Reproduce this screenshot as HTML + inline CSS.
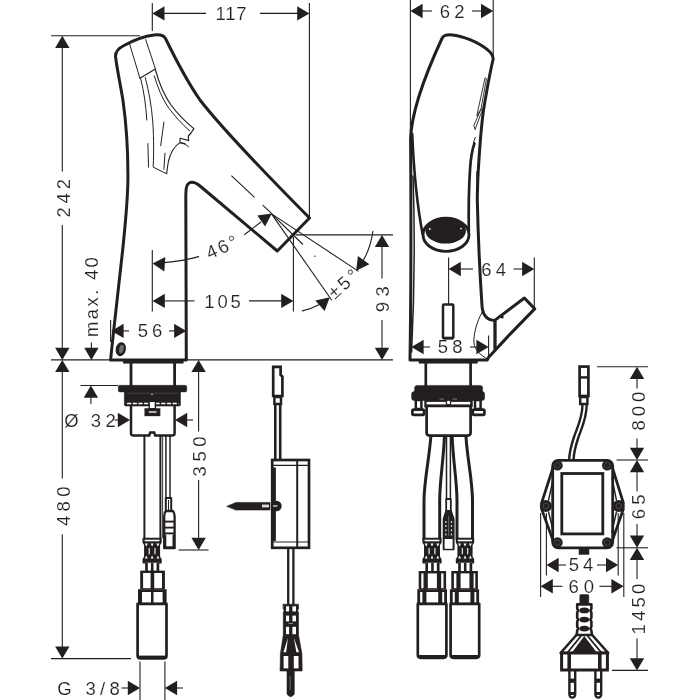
<!DOCTYPE html>
<html><head><meta charset="utf-8"><title>Dimension drawing</title>
<style>
html,body{margin:0;padding:0;background:#fff;}
body{width:700px;height:700px;overflow:hidden;}
svg{display:block;will-change:transform;}
text{font-family:"Liberation Sans",sans-serif;fill:#231f20;stroke:#fff;stroke-width:0.15px;}
</style></head><body>
<svg width="700" height="700" viewBox="0 0 700 700">
<rect width="700" height="700" fill="#fff"/>
<line x1="152.3" y1="3" x2="152.3" y2="31" stroke="#231f20" stroke-width="1.1" stroke-linecap="butt"/>
<line x1="309.4" y1="3" x2="309.4" y2="218" stroke="#231f20" stroke-width="1.1" stroke-linecap="butt"/>
<polygon points="152.3,13.4 164.5,6.2 164.5,20.6" fill="#231f20"/>
<polygon points="309.4,13.4 297.2,20.6 297.2,6.2" fill="#231f20"/>
<line x1="164" y1="13.4" x2="206" y2="13.4" stroke="#231f20" stroke-width="1.1" stroke-linecap="butt"/>
<line x1="260" y1="13.4" x2="298" y2="13.4" stroke="#231f20" stroke-width="1.1" stroke-linecap="butt"/>
<text x="215.59" y="20.00" font-size="18.5" letter-spacing="0.74">117</text>
<line x1="51" y1="35.7" x2="140" y2="35.7" stroke="#231f20" stroke-width="1.1" stroke-linecap="butt"/>
<polygon points="62.3,35.7 69.5,47.9 55.1,47.9" fill="#231f20"/>
<line x1="62.3" y1="47" x2="62.3" y2="171.4" stroke="#231f20" stroke-width="1.1" stroke-linecap="butt"/>
<line x1="62.3" y1="225" x2="62.3" y2="348" stroke="#231f20" stroke-width="1.1" stroke-linecap="butt"/>
<polygon points="62.3,359.9 55.1,347.7 69.5,347.7" fill="#231f20"/>
<text x="69.70" y="217.53" font-size="18.5" letter-spacing="3.80" transform="rotate(-90 69.70 217.53)">242</text>
<line x1="51" y1="359.9" x2="393" y2="359.9" stroke="#231f20" stroke-width="1.1" stroke-linecap="butt"/>
<polygon points="62.3,359.9 69.5,372.1 55.1,372.1" fill="#231f20"/>
<line x1="62.3" y1="371" x2="62.3" y2="478.6" stroke="#231f20" stroke-width="1.1" stroke-linecap="butt"/>
<line x1="62.3" y1="534.3" x2="62.3" y2="647" stroke="#231f20" stroke-width="1.1" stroke-linecap="butt"/>
<polygon points="62.3,658.6 55.1,646.4 69.5,646.4" fill="#231f20"/>
<text x="70.00" y="526.12" font-size="18.5" letter-spacing="4.44" transform="rotate(-90 70.00 526.12)">480</text>
<line x1="51" y1="658.6" x2="131" y2="658.6" stroke="#231f20" stroke-width="1.1" stroke-linecap="butt"/>
<polygon points="91.4,359.9 84.2,347.7 98.6,347.7" fill="#231f20"/>
<line x1="91.4" y1="342.5" x2="91.4" y2="348" stroke="#231f20" stroke-width="1.1" stroke-linecap="butt"/>
<text x="98.30" y="336.93" font-size="18.5" letter-spacing="2.32" transform="rotate(-90 98.30 336.93)">max. 40</text>
<line x1="110.6" y1="320" x2="110.6" y2="342" stroke="#231f20" stroke-width="1.1" stroke-linecap="butt"/>
<polygon points="111.4,330.9 123.6,323.7 123.6,338.1" fill="#231f20"/>
<polygon points="186.3,330.9 174.1,338.1 174.1,323.7" fill="#231f20"/>
<line x1="123" y1="330.9" x2="129" y2="330.9" stroke="#231f20" stroke-width="1.1" stroke-linecap="butt"/>
<line x1="169" y1="330.9" x2="175" y2="330.9" stroke="#231f20" stroke-width="1.1" stroke-linecap="butt"/>
<text x="137.86" y="337.00" font-size="18.5" letter-spacing="3.78">56</text>
<line x1="152.3" y1="250" x2="152.3" y2="311.5" stroke="#231f20" stroke-width="1.1" stroke-linecap="butt"/>
<polygon points="152.6,263.4 165.3,257.1 164.3,271.4" fill="#231f20"/>
<path d="M164,262.6 Q183,261 198.6,256.6" fill="none" stroke="#231f20" stroke-width="1.1" stroke-linejoin="round" stroke-linecap="round"/>
<text x="209.5" y="259.5" font-size="18.5" letter-spacing="2.2" transform="rotate(-24 209.5 259.5)">46°</text>
<polygon points="152.6,300.9 164.8,293.7 164.8,308.1" fill="#231f20"/>
<line x1="164" y1="300.9" x2="194.5" y2="300.9" stroke="#231f20" stroke-width="1.1" stroke-linecap="butt"/>
<text x="204.29" y="307.60" font-size="18.5" letter-spacing="2.81">105</text>
<line x1="249" y1="300.9" x2="283" y2="300.9" stroke="#231f20" stroke-width="1.1" stroke-linecap="butt"/>
<polygon points="293.4,300.9 281.2,308.1 281.2,293.7" fill="#231f20"/>
<line x1="293.4" y1="237" x2="293.4" y2="311.5" stroke="#231f20" stroke-width="1.1" stroke-linecap="butt"/>
<polygon points="271.8,213.6 265.1,226.6 257.3,215.5" fill="#231f20"/>
<line x1="244.3" y1="234.8" x2="261" y2="222" stroke="#231f20" stroke-width="1.1" stroke-linecap="butt"/>
<line x1="231.4" y1="175.7" x2="254.5" y2="197.4" stroke="#231f20" stroke-width="1.1" stroke-linecap="butt"/>
<line x1="262.7" y1="205.2" x2="271.5" y2="213.4" stroke="#231f20" stroke-width="1.1" stroke-linecap="butt"/>
<line x1="271.3" y1="213.6" x2="358.6" y2="271.4" stroke="#231f20" stroke-width="1.1" stroke-linecap="butt"/>
<line x1="271.3" y1="213.6" x2="331.8" y2="300.3" stroke="#231f20" stroke-width="1.1" stroke-linecap="butt"/>
<line x1="271.3" y1="213.6" x2="303" y2="244.5" stroke="#231f20" stroke-width="1.1" stroke-linecap="butt"/>
<line x1="295.5" y1="234.9" x2="393" y2="234.9" stroke="#231f20" stroke-width="1.1" stroke-linecap="butt"/>
<circle cx="314.9" cy="256.3" r="0.7" fill="#231f20"/>
<path d="M372.9,231.4 Q370,252 359.5,266" fill="none" stroke="#231f20" stroke-width="1.1" stroke-linejoin="round" stroke-linecap="round"/>
<polygon points="356.2,270.8 357.9,256.1 369.4,264.2" fill="#231f20"/>
<path d="M302.3,310.9 Q312,308.5 319.5,304.5" fill="none" stroke="#231f20" stroke-width="1.1" stroke-linejoin="round" stroke-linecap="round"/>
<polygon points="329.8,297.2 324.6,311.0 315.4,300.4" fill="#231f20"/>
<text x="334.8" y="300.0" font-size="18.5" letter-spacing="3.0" transform="rotate(-42 334.8 300.0)">±5°</text>
<polygon points="382.0,234.9 389.2,247.1 374.8,247.1" fill="#231f20"/>
<line x1="382" y1="246" x2="382" y2="278.5" stroke="#231f20" stroke-width="1.1" stroke-linecap="butt"/>
<line x1="382" y1="320" x2="382" y2="348" stroke="#231f20" stroke-width="1.1" stroke-linecap="butt"/>
<polygon points="382.0,359.9 374.8,347.7 389.2,347.7" fill="#231f20"/>
<text x="388.60" y="312.27" font-size="18.5" letter-spacing="5.50" transform="rotate(-90 388.60 312.27)">93</text>
<line x1="80.5" y1="385.5" x2="118" y2="385.5" stroke="#231f20" stroke-width="1.1" stroke-linecap="butt"/>
<polygon points="90.9,385.5 98.1,397.7 83.7,397.7" fill="#231f20"/>
<line x1="90.9" y1="397" x2="90.9" y2="404" stroke="#231f20" stroke-width="1.1" stroke-linecap="butt"/>
<text x="64.25" y="427.00" font-size="18.5" letter-spacing="0.00">Ø</text>
<text x="90.70" y="427.00" font-size="18.5" letter-spacing="4.56">32</text>
<line x1="114.5" y1="420" x2="119" y2="420" stroke="#231f20" stroke-width="1.1" stroke-linecap="butt"/>
<polygon points="130.0,420.0 117.8,427.2 117.8,412.8" fill="#231f20"/>
<polygon points="175.0,420.0 187.2,412.8 187.2,427.2" fill="#231f20"/>
<line x1="186.5" y1="420" x2="193" y2="420" stroke="#231f20" stroke-width="1.1" stroke-linecap="butt"/>
<polygon points="198.6,359.9 205.8,372.1 191.4,372.1" fill="#231f20"/>
<line x1="198.6" y1="371" x2="198.6" y2="431.4" stroke="#231f20" stroke-width="1.1" stroke-linecap="butt"/>
<line x1="198.6" y1="480" x2="198.6" y2="538" stroke="#231f20" stroke-width="1.1" stroke-linecap="butt"/>
<polygon points="198.6,550.0 191.4,537.8 205.8,537.8" fill="#231f20"/>
<text x="205.70" y="476.40" font-size="18.5" letter-spacing="4.58" transform="rotate(-90 205.70 476.40)">350</text>
<line x1="178.5" y1="550" x2="208.5" y2="550" stroke="#231f20" stroke-width="1.1" stroke-linecap="butt"/>
<text x="57.37" y="694.60" font-size="18.5" letter-spacing="4.27">G 3/8</text>
<line x1="121.5" y1="688" x2="129" y2="688" stroke="#231f20" stroke-width="1.1" stroke-linecap="butt"/>
<polygon points="140.0,688.0 127.8,695.2 127.8,680.8" fill="#231f20"/>
<polygon points="164.9,688.0 177.1,680.8 177.1,695.2" fill="#231f20"/>
<line x1="176" y1="688" x2="183" y2="688" stroke="#231f20" stroke-width="1.1" stroke-linecap="butt"/>
<line x1="140" y1="661.5" x2="140" y2="700" stroke="#231f20" stroke-width="1.1" stroke-linecap="butt"/>
<line x1="164.9" y1="661.5" x2="164.9" y2="700" stroke="#231f20" stroke-width="1.1" stroke-linecap="butt"/>
<line x1="410.4" y1="0" x2="410.4" y2="140" stroke="#231f20" stroke-width="1.1" stroke-linecap="butt"/>
<line x1="493.2" y1="0" x2="493.2" y2="56" stroke="#231f20" stroke-width="1.1" stroke-linecap="butt"/>
<polygon points="410.4,11.0 422.6,3.8 422.6,18.2" fill="#231f20"/>
<polygon points="493.2,11.0 481.0,18.2 481.0,3.8" fill="#231f20"/>
<line x1="422" y1="11" x2="432" y2="11" stroke="#231f20" stroke-width="1.1" stroke-linecap="butt"/>
<line x1="472" y1="11" x2="481.5" y2="11" stroke="#231f20" stroke-width="1.1" stroke-linecap="butt"/>
<text x="439.76" y="17.80" font-size="18.5" letter-spacing="4.09">62</text>
<line x1="448.6" y1="257.5" x2="448.6" y2="304.5" stroke="#231f20" stroke-width="1.1" stroke-linecap="butt"/>
<line x1="534.3" y1="257.5" x2="534.3" y2="307" stroke="#231f20" stroke-width="1.1" stroke-linecap="butt"/>
<polygon points="448.6,269.0 460.8,261.8 460.8,276.2" fill="#231f20"/>
<polygon points="534.3,269.0 522.1,276.2 522.1,261.8" fill="#231f20"/>
<line x1="460" y1="269" x2="473" y2="269" stroke="#231f20" stroke-width="1.1" stroke-linecap="butt"/>
<line x1="513.5" y1="269" x2="523" y2="269" stroke="#231f20" stroke-width="1.1" stroke-linecap="butt"/>
<text x="481.36" y="275.60" font-size="18.5" letter-spacing="4.20">64</text>
<polygon points="411.4,347.0 423.6,339.8 423.6,354.2" fill="#231f20"/>
<polygon points="488.6,347.0 476.4,354.2 476.4,339.8" fill="#231f20"/>
<line x1="423" y1="347" x2="430" y2="347" stroke="#231f20" stroke-width="1.1" stroke-linecap="butt"/>
<line x1="470" y1="347" x2="477" y2="347" stroke="#231f20" stroke-width="1.1" stroke-linecap="butt"/>
<text x="437.66" y="353.30" font-size="18.5" letter-spacing="4.27">58</text>
<line x1="488.6" y1="335.5" x2="488.6" y2="360" stroke="#231f20" stroke-width="1.1" stroke-linecap="butt"/>
<line x1="597" y1="366.7" x2="648" y2="366.7" stroke="#231f20" stroke-width="1.1" stroke-linecap="butt"/>
<line x1="616.5" y1="460" x2="648" y2="460" stroke="#231f20" stroke-width="1.1" stroke-linecap="butt"/>
<line x1="616.5" y1="547.8" x2="648" y2="547.8" stroke="#231f20" stroke-width="1.1" stroke-linecap="butt"/>
<line x1="612" y1="670.4" x2="648" y2="670.4" stroke="#231f20" stroke-width="1.1" stroke-linecap="butt"/>
<polygon points="637.0,366.7 644.2,378.9 629.8,378.9" fill="#231f20"/>
<line x1="637" y1="378" x2="637" y2="388.5" stroke="#231f20" stroke-width="1.1" stroke-linecap="butt"/>
<line x1="637" y1="438.5" x2="637" y2="449" stroke="#231f20" stroke-width="1.1" stroke-linecap="butt"/>
<polygon points="637.0,460.0 629.8,447.8 644.2,447.8" fill="#231f20"/>
<text x="644.70" y="430.50" font-size="18.5" letter-spacing="3.98" transform="rotate(-90 644.70 430.50)">800</text>
<polygon points="637.0,460.0 644.2,472.2 629.8,472.2" fill="#231f20"/>
<line x1="637" y1="471" x2="637" y2="491.5" stroke="#231f20" stroke-width="1.1" stroke-linecap="butt"/>
<line x1="637" y1="524" x2="637" y2="537" stroke="#231f20" stroke-width="1.1" stroke-linecap="butt"/>
<polygon points="637.0,547.8 629.8,535.6 644.2,535.6" fill="#231f20"/>
<text x="644.70" y="519.34" font-size="18.5" letter-spacing="4.24" transform="rotate(-90 644.70 519.34)">65</text>
<polygon points="637.0,547.8 644.2,560.0 629.8,560.0" fill="#231f20"/>
<line x1="637" y1="559" x2="637" y2="579" stroke="#231f20" stroke-width="1.1" stroke-linecap="butt"/>
<line x1="637" y1="638.5" x2="637" y2="659" stroke="#231f20" stroke-width="1.1" stroke-linecap="butt"/>
<polygon points="637.0,670.4 629.8,658.2 644.2,658.2" fill="#231f20"/>
<text x="644.70" y="634.51" font-size="18.5" letter-spacing="3.26" transform="rotate(-90 644.70 634.51)">1450</text>
<line x1="546.4" y1="513" x2="546.4" y2="575.5" stroke="#231f20" stroke-width="1.1" stroke-linecap="butt"/>
<line x1="618.2" y1="513" x2="618.2" y2="575.5" stroke="#231f20" stroke-width="1.1" stroke-linecap="butt"/>
<line x1="540.6" y1="513" x2="540.6" y2="597" stroke="#231f20" stroke-width="1.1" stroke-linecap="butt"/>
<line x1="623.8" y1="513" x2="623.8" y2="597" stroke="#231f20" stroke-width="1.1" stroke-linecap="butt"/>
<polygon points="546.5,565.0 558.7,557.8 558.7,572.2" fill="#231f20"/>
<polygon points="618.2,565.0 606.0,572.2 606.0,557.8" fill="#231f20"/>
<line x1="558" y1="565" x2="566" y2="565" stroke="#231f20" stroke-width="1.1" stroke-linecap="butt"/>
<line x1="597" y1="565" x2="607" y2="565" stroke="#231f20" stroke-width="1.1" stroke-linecap="butt"/>
<text x="568.66" y="571.40" font-size="18.5" letter-spacing="4.11">54</text>
<polygon points="540.6,586.3 552.8,579.1 552.8,593.5" fill="#231f20"/>
<polygon points="623.6,586.3 611.4,593.5 611.4,579.1" fill="#231f20"/>
<line x1="552" y1="586.3" x2="562.4" y2="586.3" stroke="#231f20" stroke-width="1.1" stroke-linecap="butt"/>
<line x1="599.4" y1="586.3" x2="612" y2="586.3" stroke="#231f20" stroke-width="1.1" stroke-linecap="butt"/>
<text x="568.46" y="593.30" font-size="18.5" letter-spacing="4.98">60</text>
<path d="M115.6,57 C115,52 118,48.5 124,45.5 C134,40 146,36 154,35 C160,34.2 163.5,35 165.5,38.5 C176,60 186,80 200,100 C220,126 260,168 309.5,218 L277.3,251 L200,186 C195,182 190.5,181.5 188,184 C186,186 185.8,190 185.8,196 L186.3,359.9 L110.6,359.9 C113.5,330 119.5,280 123.4,243 C125.5,222 127.7,200 127.9,180 C128.1,155 126.5,125 122.9,100 C120.5,85 116.8,68 115.6,57 Z" fill="none" stroke="#231f20" stroke-width="3.0" stroke-linejoin="round" stroke-linecap="round"/>
<path d="M129.6,43.9 L139.9,78.2" fill="none" stroke="#231f20" stroke-width="1.0" stroke-linejoin="round" stroke-linecap="round"/>
<path d="M145.7,39.6 L155.4,68.8" fill="none" stroke="#231f20" stroke-width="1.0" stroke-linejoin="round" stroke-linecap="round"/>
<path d="M139.9,78.2 L155.4,69" fill="none" stroke="#231f20" stroke-width="1.3" stroke-linejoin="round" stroke-linecap="round"/>
<path d="M140.8,79 C144,92 146,106 146.8,120" fill="none" stroke="#231f20" stroke-width="1.0" stroke-linejoin="round" stroke-linecap="round"/>
<path d="M145.3,77.6 C149,92 151.5,106 152.6,120 C153.6,132 154,150 153.2,167.1 L163.9,172.5 L166.7,173.6" fill="none" stroke="#231f20" stroke-width="1.0" stroke-linejoin="round" stroke-linecap="round"/>
<path d="M155.4,69.6 C159,83 164,95 171,105 C177,113 185,121.5 193.9,128.6 L191,133 L188.3,136 L188.6,140.6" fill="none" stroke="#231f20" stroke-width="1.2" stroke-linejoin="round" stroke-linecap="round"/>
<path d="M154.3,76 C158,88 162,98 168,107 C174,115 181,123.5 189.6,130.7" fill="none" stroke="#231f20" stroke-width="1.0" stroke-linejoin="round" stroke-linecap="round"/>
<path d="M188.3,140.4 L180,138.2 L180,142.6 L185,143.6" fill="none" stroke="#231f20" stroke-width="1.1" stroke-linejoin="round" stroke-linecap="round"/>
<path d="M180,142.6 C174.5,146 170.5,153 168.5,161 C167.5,166 167,170 166.7,173.6" fill="none" stroke="#231f20" stroke-width="1.1" stroke-linejoin="round" stroke-linecap="round"/>
<path d="M181,143 C184,143.4 186.5,144.8 188.6,146.8" fill="none" stroke="#231f20" stroke-width="1.0" stroke-linejoin="round" stroke-linecap="round"/>
<path d="M163.9,122.1 L160.7,145.7" fill="none" stroke="#231f20" stroke-width="1.0" stroke-linejoin="round" stroke-linecap="round"/>
<path d="M147.9,143.6 L148.5,167.1" fill="none" stroke="#231f20" stroke-width="1.0" stroke-linejoin="round" stroke-linecap="round"/>
<path d="M165,153.2 L163.9,169.3" fill="none" stroke="#231f20" stroke-width="1.0" stroke-linejoin="round" stroke-linecap="round"/>
<ellipse cx="120.8" cy="349.2" rx="5.1" ry="7.1" transform="rotate(12 120.8 349.2)" fill="#231f20"/>
<ellipse cx="121.4" cy="349" rx="2.2" ry="4.4" transform="rotate(12 121.4 349)" fill="#6e6e6e"/>
<rect x="123.2" y="360" width="60" height="3.2" rx="0" fill="#231f20" stroke="#231f20" stroke-width="0.5"/>
<line x1="131" y1="363" x2="131" y2="386" stroke="#231f20" stroke-width="2.8" stroke-linecap="butt"/>
<line x1="174.6" y1="363" x2="174.6" y2="386" stroke="#231f20" stroke-width="2.8" stroke-linecap="butt"/>
<rect x="118.3" y="385.3" width="68.4" height="6.6" rx="1.5" fill="#231f20" stroke="#231f20" stroke-width="0.5"/>
<rect x="124.3" y="391.5" width="56.2" height="14.6" rx="1.5" fill="#231f20" stroke="#231f20" stroke-width="0.5"/>
<line x1="127" y1="403.4" x2="178.6" y2="403.4" stroke="#fff" stroke-width="1.5" stroke-dasharray="4.2 1.5"/>
<line x1="127" y1="393.2" x2="178.6" y2="393.2" stroke="#555" stroke-width="0.6"/>
<circle cx="152" cy="394.4" r="0.7" fill="#fff"/>
<path d="M131,405 L131,433.6 Q131,435.4 133,435.4 L149.2,435.4 L150.2,432.6 L154.2,432.6 L155.2,435.4 L172.6,435.4 Q174.6,435.4 174.6,433.6 L174.6,405" fill="none" stroke="#231f20" stroke-width="2.5" stroke-linejoin="miter" stroke-linecap="butt"/>
<path d="M149.2,401.4 L149.2,408.8 L155.4,408.8 L155.4,401.4 Z" fill="#fff" stroke="#231f20" stroke-width="1.4" stroke-linejoin="miter" stroke-linecap="butt"/>
<rect x="145.4" y="409.2" width="14" height="6" rx="0" fill="#231f20" stroke="#231f20" stroke-width="1.9"/>
<line x1="148.8" y1="412" x2="156.4" y2="412" stroke="#fff" stroke-width="1.3" stroke-linecap="butt"/>
<line x1="144.4" y1="436" x2="144.4" y2="539" stroke="#231f20" stroke-width="2" stroke-linecap="butt"/>
<line x1="160.4" y1="436" x2="160.4" y2="539" stroke="#231f20" stroke-width="2" stroke-linecap="butt"/>
<line x1="162.6" y1="436" x2="162.6" y2="538" stroke="#231f20" stroke-width="0.9" stroke-linecap="butt"/>
<line x1="165.9" y1="436" x2="165.9" y2="498" stroke="#231f20" stroke-width="1.5" stroke-linecap="butt"/>
<line x1="170" y1="436" x2="170" y2="498" stroke="#231f20" stroke-width="1.5" stroke-linecap="butt"/>
<path d="M165.8,498 L165.8,511 L171.2,511 L171.2,498 Z" fill="#fff" stroke="#231f20" stroke-width="2.0" stroke-linejoin="round" stroke-linecap="round"/>
<line x1="168.5" y1="500" x2="168.5" y2="510" stroke="#231f20" stroke-width="1.0" stroke-linecap="butt"/>
<path d="M166,511 Q164.2,512.5 164.2,516 L164.2,548.2 L174.6,548.2 L174.6,516 Q174.6,512.5 172.8,511 Z" fill="#fff" stroke="#231f20" stroke-width="2.3" stroke-linejoin="round" stroke-linecap="round"/>
<line x1="164.2" y1="521.6" x2="174.6" y2="521.6" stroke="#231f20" stroke-width="1.9" stroke-linecap="butt"/>
<line x1="164.2" y1="527.6" x2="174.6" y2="527.6" stroke="#231f20" stroke-width="1.9" stroke-linecap="butt"/>
<line x1="164.2" y1="533.4" x2="174.6" y2="533.4" stroke="#231f20" stroke-width="1.9" stroke-linecap="butt"/>
<line x1="165" y1="535" x2="165" y2="548" stroke="#231f20" stroke-width="2.6" stroke-linecap="butt"/>
<line x1="173.8" y1="535" x2="173.8" y2="548" stroke="#231f20" stroke-width="2.6" stroke-linecap="butt"/>
<line x1="164.2" y1="547.6" x2="174.6" y2="547.6" stroke="#231f20" stroke-width="2.6" stroke-linecap="butt"/>
<path d="M143.1,538.4 L161.1,538.4 L161.1,542.4 L159.5,544.9 L159.5,556.8 L161.1,559.3 L161.1,562.8 L143.1,562.8 L143.1,559.3 L144.7,556.8 L144.7,544.9 L143.1,542.4 Z" fill="#231f20" stroke="#231f20" stroke-width="1.2" stroke-linejoin="round" stroke-linecap="round"/>
<path d="M144.8,543.6 L147.8,543.6 L146.3,546.6 Z" fill="#fff"/>
<path d="M144.9,558.4 L147.7,558.4 L146.3,555.5999999999999 Z" fill="#fff"/>
<path d="M150.6,543.6 L153.6,543.6 L152.1,546.6 Z" fill="#fff"/>
<path d="M150.7,558.4 L153.5,558.4 L152.1,555.5999999999999 Z" fill="#fff"/>
<path d="M156.4,543.6 L159.4,543.6 L157.9,546.6 Z" fill="#fff"/>
<path d="M156.5,558.4 L159.3,558.4 L157.9,555.5999999999999 Z" fill="#fff"/>
<line x1="149.2" y1="547.9" x2="149.2" y2="554.3" stroke="#fff" stroke-width="1.1" stroke-linecap="butt"/>
<line x1="155.0" y1="547.9" x2="155.0" y2="554.3" stroke="#fff" stroke-width="1.1" stroke-linecap="butt"/>
<rect x="144.7" y="539.6999999999999" width="14.8" height="1.6" fill="#fff"/>
<rect x="145.4" y="562.8" width="13.599999999999994" height="8.200000000000045" fill="#fff"/>
<line x1="146.5" y1="562.8" x2="146.5" y2="571" stroke="#231f20" stroke-width="2.7" stroke-linecap="butt"/>
<line x1="157.9" y1="562.8" x2="157.9" y2="571" stroke="#231f20" stroke-width="2.7" stroke-linecap="butt"/>
<line x1="152.2" y1="562.8" x2="152.2" y2="571" stroke="#231f20" stroke-width="2.6" stroke-linecap="butt"/>
<rect x="140.2" y="570.6" width="24.700000000000017" height="18.600000000000023" fill="#231f20"/>
<rect x="143.1" y="573.0" width="18.900000000000016" height="15.200000000000024" fill="#fff"/>
<rect x="150.6" y="570.6" width="3.5999999999999943" height="18.600000000000023" fill="#231f20"/>
<rect x="138" y="589.2" width="28.599999999999994" height="14.599999999999909" fill="#231f20"/>
<rect x="142.0" y="592.0" width="20.599999999999994" height="10.799999999999908" fill="#fff"/>
<rect x="151" y="589.2" width="2.5" height="14.599999999999909" fill="#231f20"/>
<path d="M137.6,603.8 L137.6,655.4 Q137.6,658.4 140.6,658.4 L163.5,658.4 Q166.5,658.4 166.5,655.4 L166.5,603.8 Z" fill="#fff" stroke="#231f20" stroke-width="2.7" stroke-linejoin="round" stroke-linecap="butt"/>
<line x1="138.79999999999998" y1="657.1999999999999" x2="165.3" y2="657.1999999999999" stroke="#231f20" stroke-width="3.2" stroke-linecap="butt"/>
<path d="M273.2,366.8 L280.6,366.8 L280.6,375 L282.4,376.6 L282.4,396 L273.2,396 Z" fill="none" stroke="#231f20" stroke-width="2.7" stroke-linejoin="miter" stroke-linecap="round"/>
<rect x="274.4" y="397" width="6.6" height="7" rx="0" fill="none" stroke="#231f20" stroke-width="2.5"/>
<line x1="275.3" y1="404.5" x2="275.3" y2="460" stroke="#231f20" stroke-width="2.6" stroke-linecap="butt"/>
<line x1="280.2" y1="404.5" x2="280.2" y2="460" stroke="#231f20" stroke-width="2.6" stroke-linecap="butt"/>
<rect x="272.2" y="460" width="36.8" height="87.8" rx="0" fill="none" stroke="#231f20" stroke-width="2.7"/>
<line x1="297.2" y1="460" x2="297.2" y2="547.8" stroke="#231f20" stroke-width="2" stroke-linecap="butt"/>
<line x1="273" y1="465.4" x2="308" y2="465.4" stroke="#231f20" stroke-width="1.2" stroke-linecap="butt"/>
<line x1="273" y1="542" x2="308" y2="542" stroke="#231f20" stroke-width="1.2" stroke-linecap="butt"/>
<line x1="274" y1="467.5" x2="274" y2="541" stroke="#231f20" stroke-width="3.8" stroke-linecap="butt"/>
<path d="M227,506.2 L236,502.4 L270,502.4 L270,510 L236,510 Z" fill="#231f20" stroke="#231f20" stroke-width="0.6" stroke-linejoin="round" stroke-linecap="round"/>
<circle cx="276.5" cy="506" r="5.2" fill="#231f20"/>
<rect x="262" y="504.6" width="7" height="2.8" fill="#ddd"/>
<rect x="273" y="505.2" width="4.5" height="1.6" fill="#bbb"/>
<line x1="288.2" y1="548" x2="288.2" y2="604.5" stroke="#231f20" stroke-width="2.3" stroke-linecap="butt"/>
<line x1="293.4" y1="548" x2="293.4" y2="604.5" stroke="#231f20" stroke-width="2.3" stroke-linecap="butt"/>
<path d="M283.3,604.2 L298.5,604.2 L298.5,609 L297.6,610.6 L298.5,612.2 L298.5,634.8 L301.9,653.7 L302.2,671 L280.1,671 L280.4,653.7 L283.3,634.8 L283.3,612.2 L284.2,610.6 L283.3,609 Z" fill="#231f20" stroke="#231f20" stroke-width="0.6" stroke-linejoin="round" stroke-linecap="round"/>
<rect x="286" y="606.3" width="3.1" height="5.1" fill="#fff"/>
<rect x="292.4" y="606.3" width="3.6" height="5.1" fill="#fff"/>
<rect x="286" y="615.6" width="3.1" height="5.8" fill="#fff"/>
<rect x="292.4" y="615.6" width="3.6" height="5.8" fill="#fff"/>
<rect x="286" y="626.8" width="3.1" height="7.4" fill="#fff"/>
<rect x="292.4" y="626.8" width="3.6" height="7.4" fill="#fff"/>
<ellipse cx="290.8" cy="623.4" rx="4.4" ry="1.7" fill="#231f20"/>
<ellipse cx="290.8" cy="623.4" rx="2.6" ry="0.6" fill="#888"/>
<ellipse cx="290.8" cy="614" rx="3.6" ry="1.1" fill="#231f20"/>
<path d="M288,637.4 L286.2,652.2 L283.4,652.2 Z" fill="#fff"/>
<path d="M293.8,637.4 L299,652.2 L296.4,652.2 Z" fill="#fff"/>
<rect x="283.6" y="656" width="4.7" height="12.4" fill="#fff"/>
<rect x="293.8" y="656" width="4.7" height="12.4" fill="#fff"/>
<path d="M287,671 L287,694 Q290.6,699.5 294.3,694 L294.3,671 Z" fill="#231f20" stroke="#231f20" stroke-width="0.6" stroke-linejoin="round" stroke-linecap="round"/>
<rect x="289.6" y="676" width="1.1" height="14" fill="#666"/>
<path d="M442.2,38 C443.5,35.5 447,34.6 452,34.9 C462,35.6 478,42 487.4,49.7 C491,52.6 493,55.5 493.2,59 C490.5,70 486,95 483.5,110 C481.5,125 479.5,150 478.3,170 C477.5,185 477.3,192 477.3,200 C478,230 479.6,270 482,306 C482.8,316 488,320.2 494.7,320.4 L524.4,298 L534.7,308.9 L509.6,334.6 L488.2,357.8 L487.3,359.9 L410,359.9 C411,300 411,200 410.6,139 C411.5,105 432,60 442.2,38 Z" fill="none" stroke="#231f20" stroke-width="3.0" stroke-linejoin="round" stroke-linecap="round"/>
<path d="M413,176 C414.6,220 414.6,290 411.6,352" fill="none" stroke="#231f20" stroke-width="1.5" stroke-linejoin="round" stroke-linecap="round"/>
<path d="M412.2,134 C414,175 418,210 422.6,234" fill="none" stroke="#231f20" stroke-width="2.6" stroke-linejoin="round" stroke-linecap="round"/>
<ellipse cx="446" cy="234.8" rx="23" ry="16.6" fill="#fff" stroke="#231f20" stroke-width="2.9"/>
<ellipse cx="445.7" cy="230.8" rx="20.3" ry="12.8" fill="#231f20"/>
<circle cx="429.8" cy="229" r="0.9" fill="#eee"/><circle cx="461" cy="228.6" r="0.9" fill="#eee"/>
<path d="M468.8,232 C468.5,210 469,185 470,170 C470.6,160 472,150 474.4,143.5" fill="none" stroke="#231f20" stroke-width="2.7" stroke-linejoin="round" stroke-linecap="round"/>
<path d="M475.3,137.3 L473.4,143" fill="none" stroke="#231f20" stroke-width="1.0" stroke-linejoin="round" stroke-linecap="round"/>
<path d="M485,78 C482,92 479,105 476.8,116 L477.6,116 C478.5,112 480,110 480.9,109.6 C482.5,100 484.5,90 486.4,79.2 Z" fill="none" stroke="#231f20" stroke-width="0.9" stroke-linejoin="round" stroke-linecap="round"/>
<path d="M480.9,109.4 C478.5,115 476,120.5 473.8,125.6 L475.2,129.6 C477,124 480,116 482.3,110.2 Z" fill="none" stroke="#231f20" stroke-width="0.9" stroke-linejoin="round" stroke-linecap="round"/>
<path d="M477.6,172 L477.8,190" fill="none" stroke="#231f20" stroke-width="2.6" stroke-linejoin="round" stroke-linecap="round"/>
<line x1="495" y1="321" x2="495" y2="349.5" stroke="#231f20" stroke-width="3.3" stroke-linecap="butt"/>
<circle cx="502.2" cy="317" r="1.5" fill="#231f20"/>
<path d="M482.1,312.3 C476.5,322 473.3,335 474,343 C474.8,350 480,354.5 486.9,358.8" fill="none" stroke="#231f20" stroke-width="1.0" stroke-linejoin="round" stroke-linecap="round"/>
<rect x="443" y="304.6" width="10.3" height="33.6" rx="1" fill="#fff" stroke="#231f20" stroke-width="2.5"/>
<line x1="443.5" y1="338" x2="452.8" y2="338" stroke="#231f20" stroke-width="2.6" stroke-linecap="butt"/>
<rect x="419" y="360" width="58.5" height="3.2" rx="0" fill="#231f20" stroke="#231f20" stroke-width="0.5"/>
<line x1="425.8" y1="363" x2="425.8" y2="386" stroke="#231f20" stroke-width="2.7" stroke-linecap="butt"/>
<line x1="470.6" y1="363" x2="470.6" y2="386" stroke="#231f20" stroke-width="2.7" stroke-linecap="butt"/>
<rect x="414.6" y="385.4" width="68" height="9" rx="2.5" fill="#231f20" stroke="#231f20" stroke-width="0.5"/>
<rect x="411.6" y="391.6" width="73" height="8.8" rx="2.5" fill="#231f20" stroke="#231f20" stroke-width="0.5"/>
<rect x="424.6" y="399" width="47.8" height="8" rx="0" fill="#231f20" stroke="#231f20" stroke-width="0.5"/>
<rect x="426.6" y="401.9" width="43.6" height="2.5" fill="#fff"/>
<circle cx="448.5" cy="402.4" r="2.3" fill="#fff" stroke="#231f20" stroke-width="1.1"/>
<rect x="439.5" y="398.6" width="4.5" height="1" fill="#777"/><rect x="452.5" y="398.6" width="4.5" height="1" fill="#777"/>
<rect x="415.8" y="400" width="5.6" height="9" rx="0" fill="#fff" stroke="#231f20" stroke-width="2.5"/>
<rect x="475" y="400" width="5.6" height="9" rx="0" fill="#fff" stroke="#231f20" stroke-width="2.5"/>
<rect x="412.4" y="409.6" width="11.6" height="5.2" rx="1.2" fill="#fff" stroke="#231f20" stroke-width="2.7"/>
<rect x="472.8" y="409.6" width="11.6" height="5.2" rx="1.2" fill="#fff" stroke="#231f20" stroke-width="2.7"/>
<path d="M426.6,405 L426.6,432.6 Q426.6,435.6 429.6,435.6 L467.6,435.6 Q470.6,435.6 470.6,432.6 L470.6,405" fill="none" stroke="#231f20" stroke-width="2.7" stroke-linejoin="miter" stroke-linecap="butt"/>
<path d="M430.8,437 C429,460 424.3,480 424,500 L424,539" fill="none" stroke="#231f20" stroke-width="3.0" stroke-linejoin="round" stroke-linecap="round"/>
<path d="M444.4,437 C443.5,460 439.8,480 439.7,500 L439.7,539" fill="none" stroke="#231f20" stroke-width="3.0" stroke-linejoin="round" stroke-linecap="round"/>
<path d="M452.2,437 C453,460 456.8,480 457,500 L457,539" fill="none" stroke="#231f20" stroke-width="3.0" stroke-linejoin="round" stroke-linecap="round"/>
<path d="M466,437 C467.5,460 472.3,480 472.5,500 L472.5,539" fill="none" stroke="#231f20" stroke-width="3.0" stroke-linejoin="round" stroke-linecap="round"/>
<line x1="446.5" y1="437" x2="446.5" y2="499" stroke="#231f20" stroke-width="1.5" stroke-linecap="butt"/>
<line x1="450.4" y1="437" x2="450.4" y2="499" stroke="#231f20" stroke-width="1.5" stroke-linecap="butt"/>
<path d="M446.2,499 L446.2,511 L450.8,511 L450.8,499 Z" fill="#fff" stroke="#231f20" stroke-width="1.8" stroke-linejoin="round" stroke-linecap="round"/>
<path d="M446,510.6 L451,510.6 L453.9,519 L453.9,549.6 L443.4,549.6 L443.4,519 Z" fill="#231f20" stroke="#231f20" stroke-width="1.4" stroke-linejoin="round" stroke-linecap="round"/>
<rect x="444.6" y="539" width="8" height="9.8" fill="#fff"/>
<rect x="445.2" y="521" width="1.3" height="1.8" fill="#ddd"/><rect x="450.8" y="521" width="1.3" height="1.8" fill="#ddd"/>
<rect x="445.2" y="525.2" width="1.3" height="1.8" fill="#ddd"/><rect x="450.8" y="525.2" width="1.3" height="1.8" fill="#ddd"/>
<rect x="445.2" y="529.4" width="1.3" height="1.8" fill="#ddd"/><rect x="450.8" y="529.4" width="1.3" height="1.8" fill="#ddd"/>
<rect x="445.2" y="533.6" width="1.3" height="1.8" fill="#ddd"/><rect x="450.8" y="533.6" width="1.3" height="1.8" fill="#ddd"/>
<line x1="448.6" y1="516" x2="448.6" y2="536" stroke="#777" stroke-width="0.8" stroke-linecap="butt"/>
<path d="M423,538.4 L441,538.4 L441,542.4 L439.4,544.9 L439.4,556.8 L441,559.3 L441,562.8 L423,562.8 L423,559.3 L424.6,556.8 L424.6,544.9 L423,542.4 Z" fill="#231f20" stroke="#231f20" stroke-width="1.2" stroke-linejoin="round" stroke-linecap="round"/>
<path d="M424.7,543.6 L427.7,543.6 L426.2,546.6 Z" fill="#fff"/>
<path d="M424.8,558.4 L427.6,558.4 L426.2,555.5999999999999 Z" fill="#fff"/>
<path d="M430.5,543.6 L433.5,543.6 L432.0,546.6 Z" fill="#fff"/>
<path d="M430.6,558.4 L433.4,558.4 L432.0,555.5999999999999 Z" fill="#fff"/>
<path d="M436.3,543.6 L439.3,543.6 L437.8,546.6 Z" fill="#fff"/>
<path d="M436.4,558.4 L439.2,558.4 L437.8,555.5999999999999 Z" fill="#fff"/>
<line x1="429.1" y1="547.9" x2="429.1" y2="554.3" stroke="#fff" stroke-width="1.1" stroke-linecap="butt"/>
<line x1="434.9" y1="547.9" x2="434.9" y2="554.3" stroke="#fff" stroke-width="1.1" stroke-linecap="butt"/>
<rect x="424.6" y="539.6999999999999" width="14.8" height="1.6" fill="#fff"/>
<path d="M456.4,538.4 L473.6,538.4 L473.6,542.4 L472.0,544.9 L472.0,556.8 L473.6,559.3 L473.6,562.8 L456.4,562.8 L456.4,559.3 L458.0,556.8 L458.0,544.9 L456.4,542.4 Z" fill="#231f20" stroke="#231f20" stroke-width="1.2" stroke-linejoin="round" stroke-linecap="round"/>
<path d="M458.1,543.6 L461.1,543.6 L459.6,546.6 Z" fill="#fff"/>
<path d="M458.2,558.4 L461.0,558.4 L459.6,555.5999999999999 Z" fill="#fff"/>
<path d="M463.5,543.6 L466.5,543.6 L465.0,546.6 Z" fill="#fff"/>
<path d="M463.6,558.4 L466.4,558.4 L465.0,555.5999999999999 Z" fill="#fff"/>
<path d="M468.9,543.6 L471.9,543.6 L470.4,546.6 Z" fill="#fff"/>
<path d="M469.0,558.4 L471.8,558.4 L470.4,555.5999999999999 Z" fill="#fff"/>
<line x1="462.3" y1="547.9" x2="462.3" y2="554.3" stroke="#fff" stroke-width="1.1" stroke-linecap="butt"/>
<line x1="467.7" y1="547.9" x2="467.7" y2="554.3" stroke="#fff" stroke-width="1.1" stroke-linecap="butt"/>
<rect x="458.0" y="539.6999999999999" width="14.000000000000046" height="1.6" fill="#fff"/>
<rect x="425.6" y="562.8" width="13.699999999999989" height="8.200000000000045" fill="#fff"/>
<line x1="426.70000000000005" y1="562.8" x2="426.70000000000005" y2="571" stroke="#231f20" stroke-width="2.7" stroke-linecap="butt"/>
<line x1="438.2" y1="562.8" x2="438.2" y2="571" stroke="#231f20" stroke-width="2.7" stroke-linecap="butt"/>
<line x1="432.45000000000005" y1="562.8" x2="432.45000000000005" y2="571" stroke="#231f20" stroke-width="2.6" stroke-linecap="butt"/>
<rect x="458.4" y="562.8" width="13.600000000000023" height="8.200000000000045" fill="#fff"/>
<line x1="459.5" y1="562.8" x2="459.5" y2="571" stroke="#231f20" stroke-width="2.7" stroke-linecap="butt"/>
<line x1="470.9" y1="562.8" x2="470.9" y2="571" stroke="#231f20" stroke-width="2.7" stroke-linecap="butt"/>
<line x1="465.2" y1="562.8" x2="465.2" y2="571" stroke="#231f20" stroke-width="2.6" stroke-linecap="butt"/>
<rect x="418.7" y="571" width="27.400000000000034" height="18.200000000000045" fill="#231f20"/>
<rect x="421.3" y="573.4" width="22.200000000000035" height="14.800000000000045" fill="#fff"/>
<rect x="423.5" y="571" width="4.300000000000011" height="18.200000000000045" fill="#231f20"/>
<rect x="436.9" y="571" width="4.300000000000011" height="18.200000000000045" fill="#231f20"/>
<rect x="451.3" y="571" width="26.599999999999966" height="18.200000000000045" fill="#231f20"/>
<rect x="453.90000000000003" y="573.4" width="21.399999999999967" height="14.800000000000045" fill="#fff"/>
<rect x="456.4" y="571" width="4.2000000000000455" height="18.200000000000045" fill="#231f20"/>
<rect x="469.4" y="571" width="4.2000000000000455" height="18.200000000000045" fill="#231f20"/>
<rect x="417.3" y="589.2" width="29.69999999999999" height="14.599999999999909" fill="#231f20"/>
<rect x="420.1" y="592.0" width="24.099999999999987" height="10.799999999999908" fill="#fff"/>
<rect x="422.4" y="589.2" width="4.0" height="14.599999999999909" fill="#231f20"/>
<rect x="438.2" y="589.2" width="4.0" height="14.599999999999909" fill="#231f20"/>
<rect x="449.9" y="589.2" width="29.200000000000045" height="14.599999999999909" fill="#231f20"/>
<rect x="452.7" y="592.0" width="23.600000000000044" height="10.799999999999908" fill="#fff"/>
<rect x="454.8" y="589.2" width="4.0" height="14.599999999999909" fill="#231f20"/>
<rect x="470.4" y="589.2" width="4.0" height="14.599999999999909" fill="#231f20"/>
<path d="M417.8,603.8 L417.8,654.8 Q417.8,657.8 420.8,657.8 L443.4,657.8 Q446.4,657.8 446.4,654.8 L446.4,603.8 Z" fill="#fff" stroke="#231f20" stroke-width="2.7" stroke-linejoin="round" stroke-linecap="butt"/>
<line x1="419.0" y1="656.5999999999999" x2="445.2" y2="656.5999999999999" stroke="#231f20" stroke-width="3.2" stroke-linecap="butt"/>
<path d="M450.6,603.8 L450.6,654.8 Q450.6,657.8 453.6,657.8 L476.2,657.8 Q479.2,657.8 479.2,654.8 L479.2,603.8 Z" fill="#fff" stroke="#231f20" stroke-width="2.7" stroke-linejoin="round" stroke-linecap="butt"/>
<line x1="451.8" y1="656.5999999999999" x2="478.0" y2="656.5999999999999" stroke="#231f20" stroke-width="3.2" stroke-linecap="butt"/>
<rect x="579.6" y="366.6" width="8.8" height="29.4" rx="0" fill="none" stroke="#231f20" stroke-width="2.7"/>
<rect x="580.2" y="397" width="7.2" height="7" rx="0" fill="none" stroke="#231f20" stroke-width="2.5"/>
<line x1="579" y1="377.4" x2="589" y2="377.4" stroke="#231f20" stroke-width="2.4" stroke-linecap="butt"/>
<path d="M582.5,404.6 C582.5,418 577,428 574,437 C571,446 569.4,452 569.2,459.5" fill="none" stroke="#231f20" stroke-width="2.4" stroke-linejoin="round" stroke-linecap="round"/>
<path d="M586.7,404.6 C586.7,419 581.2,429 578.2,438 C575.2,447 573.8,453 573.6,459.5" fill="none" stroke="#231f20" stroke-width="2.4" stroke-linejoin="round" stroke-linecap="round"/>
<rect x="552.7" y="460.3" width="60" height="87.5" rx="5.5" fill="none" stroke="#231f20" stroke-width="2.8"/>
<path d="M553.2,467 L541.6,503 M541.6,509 L553.2,541" fill="none" stroke="#231f20" stroke-width="2.7" stroke-linejoin="round" stroke-linecap="round"/>
<path d="M612.2,467 L623.4,503 M623.4,509 L612.2,541" fill="none" stroke="#231f20" stroke-width="2.7" stroke-linejoin="round" stroke-linecap="round"/>
<path d="M553.4,478 L548.6,500 M548.6,512 L553.4,532" fill="none" stroke="#231f20" stroke-width="1.4" stroke-linejoin="round" stroke-linecap="round"/>
<path d="M612,478 L616.4,500 M616.4,512 L612,532" fill="none" stroke="#231f20" stroke-width="1.4" stroke-linejoin="round" stroke-linecap="round"/>
<rect x="561.8" y="473.5" width="41" height="60.4" rx="0" fill="none" stroke="#231f20" stroke-width="2.8"/>
<circle cx="557.5" cy="465.4" r="5.2" fill="#231f20"/>
<circle cx="557.5" cy="465.4" r="2.8" fill="none" stroke="#4a4a4a" stroke-width="0.9"/>
<circle cx="607.2" cy="465.4" r="5.2" fill="#231f20"/>
<circle cx="607.2" cy="465.4" r="2.8" fill="none" stroke="#4a4a4a" stroke-width="0.9"/>
<circle cx="557.5" cy="542.5" r="5.2" fill="#231f20"/>
<circle cx="557.5" cy="542.5" r="2.8" fill="none" stroke="#4a4a4a" stroke-width="0.9"/>
<circle cx="607.2" cy="542.5" r="5.2" fill="#231f20"/>
<circle cx="607.2" cy="542.5" r="2.8" fill="none" stroke="#4a4a4a" stroke-width="0.9"/>
<circle cx="545.8" cy="506" r="6.0" fill="#231f20"/>
<circle cx="545.8" cy="506" r="2.8" fill="none" stroke="#4a4a4a" stroke-width="0.9"/>
<circle cx="618.8" cy="506" r="6.0" fill="#231f20"/>
<circle cx="618.8" cy="506" r="2.8" fill="none" stroke="#4a4a4a" stroke-width="0.9"/>
<rect x="579" y="548" width="10" height="6.4" rx="0" fill="#231f20" stroke="#231f20" stroke-width="0.5"/>
<rect x="579.8" y="594.6" width="9" height="10.5" rx="1.2" fill="#231f20" stroke="#231f20" stroke-width="0.5"/>
<path d="M577.2,604.4 L591.4,604.4 L591.4,608.6 L590.4,610.6 L591.4,612.6 L591.4,617.6 L590.4,619.6 L591.4,621.6 L591.4,626.6 L590.4,628.6 L591.4,630.6 L592,635.6 L576.6,635.6 L577.2,630.6 L578.2,628.6 L577.2,626.6 L577.2,621.6 L578.2,619.6 L577.2,617.6 L577.2,612.6 L578.2,610.6 L577.2,608.6 Z" fill="#fff" stroke="#231f20" stroke-width="2.6" stroke-linejoin="round" stroke-linecap="round"/>
<ellipse cx="584.3" cy="610.4" rx="4.9" ry="2.9" fill="#231f20"/>
<ellipse cx="584.3" cy="619.6" rx="4.9" ry="2.9" fill="#231f20"/>
<ellipse cx="584.3" cy="628.6" rx="4.9" ry="2.9" fill="#231f20"/>
<path d="M576.4,635 L560.6,653 L608.2,653 L592.2,635 Z" fill="#fff" stroke="#231f20" stroke-width="2.6" stroke-linejoin="round" stroke-linecap="round"/>
<path d="M580.6,636.5 L567.5,652.5 M588,636.5 L601.3,652.5" fill="none" stroke="#231f20" stroke-width="1.8" stroke-linejoin="round" stroke-linecap="round"/>
<path d="M584.3,637 L572.6,652.6 L596.2,652.6 Z" fill="#231f20" stroke="#231f20" stroke-width="1.2" stroke-linejoin="round" stroke-linecap="round"/>
<rect x="569.4" y="666" width="5.800000000000068" height="31.6" rx="3.4" fill="#fff" stroke="#231f20" stroke-width="2.4"/>
<rect x="569.4" y="678.6" width="5.800000000000068" height="4.2" fill="#231f20"/>
<rect x="569.4" y="692" width="5.800000000000068" height="3" fill="#231f20"/>
<rect x="595.4" y="666" width="5.800000000000068" height="31.6" rx="3.4" fill="#fff" stroke="#231f20" stroke-width="2.4"/>
<rect x="595.4" y="678.6" width="5.800000000000068" height="4.2" fill="#231f20"/>
<rect x="595.4" y="692" width="5.800000000000068" height="3" fill="#231f20"/>
<rect x="561.6" y="653" width="45.8" height="17" rx="0" fill="#fff" stroke="#231f20" stroke-width="3.0"/>
<line x1="569.2" y1="653" x2="569.2" y2="670" stroke="#231f20" stroke-width="3.6" stroke-linecap="butt"/>
<line x1="599.8" y1="653" x2="599.8" y2="670" stroke="#231f20" stroke-width="3.6" stroke-linecap="butt"/>
</svg>
</body></html>
